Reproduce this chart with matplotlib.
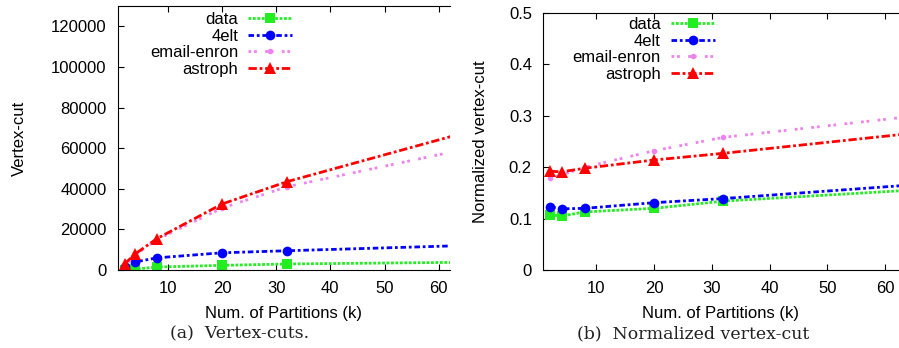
import matplotlib
matplotlib.use("Agg")
import matplotlib.pyplot as plt

plt.rcParams['font.family'] = ['Liberation Sans', 'DejaVu Sans']

# number of partitions
k = [2, 4, 8, 20, 32, 64]

# (a) absolute vertex-cut
cut_data = [100, 500, 1500, 2300, 3000, 3800]
cut_4elt = [1500, 4000, 6000, 8500, 9500, 12000]
cut_enron = [2000, 7500, 15000, 30500, 41000, 59000]
cut_astroph = [3000, 8000, 15500, 32500, 43500, 67000]

# (b) normalized vertex-cut
norm_data = [0.107, 0.105, 0.113, 0.120, 0.134, 0.155]
norm_4elt = [0.123, 0.119, 0.120, 0.131, 0.139, 0.165]
norm_enron = [0.178, 0.185, 0.200, 0.232, 0.258, 0.298]
norm_astroph = [0.192, 0.191, 0.198, 0.214, 0.227, 0.265]

names = ["data", "4elt", "email-enron", "astroph"]
styles = [
    dict(color="#22ee22", ls=(0, (1, 0.6)), marker="s", ms=7),
    dict(color="#0000ff", ls=(0, (2, 1, 1, 1)), marker="o", ms=7),
    dict(color="#ee82ee", ls=(0, (1, 1, 1, 3)), marker="o", ms=4),
    dict(color="#ff0000", ls=(0, (3, 1, 1, 1)), marker="^", ms=8),
]

fig = plt.figure(figsize=(8.99, 3.48), dpi=100)
ax1 = fig.add_axes([0.131, 0.224, 0.369, 0.759])
ax2 = fig.add_axes([0.604, 0.224, 0.396, 0.739])


def draw(ax, series, legend_anchor):
    for name, ys, st in zip(names, series, styles):
        ax.plot(k, ys, label=name, lw=2, mew=0, **st)
    ax.set_xticks([10, 20, 30, 40, 50, 60])
    ax.tick_params(direction="in", top=True, right=False, labelsize=12,
                   length=4, pad=8)
    ax.spines["right"].set_visible(False)
    ax.set_xlabel("Num. of Partitions (k)", fontsize=12, labelpad=7)
    ax.legend(loc="upper right", bbox_to_anchor=legend_anchor, frameon=False,
              markerfirst=False, fontsize=12, handlelength=2.65,
              labelspacing=0.1, handletextpad=0.6, borderaxespad=0,
              borderpad=0)


draw(ax1, [cut_data, cut_4elt, cut_enron, cut_astroph], (0.526, 0.977))
ax1.set_xlim(0.75, 62.0)
ax1.set_ylim(0, 130000)
ax1.set_yticks(range(0, 120001, 20000))
ax1.set_ylabel("Vertex-cut", fontsize=12, labelpad=17)

draw(ax2, [norm_data, norm_4elt, norm_enron, norm_astroph], (0.483, 0.984))
ax2.set_xlim(0.75, 62.4)
ax2.set_ylim(0, 0.5)
ax2.set_yticks([0, 0.1, 0.2, 0.3, 0.4, 0.5])
ax2.set_yticklabels(["0", "0.1", "0.2", "0.3", "0.4", "0.5"])
ax2.set_ylabel("Normalized vertex-cut", fontsize=12, labelpad=15)

fig.text(0.267, 0.042, "(a)  Vertex-cuts.", family="DejaVu Serif",
         fontsize=12.5, ha="center", va="center", color="#222222")
fig.text(0.771, 0.042, "(b)  Normalized vertex-cut", family="DejaVu Serif",
         fontsize=12.5, ha="center", va="center", color="#222222")

fig.savefig("out.png", dpi=100)
